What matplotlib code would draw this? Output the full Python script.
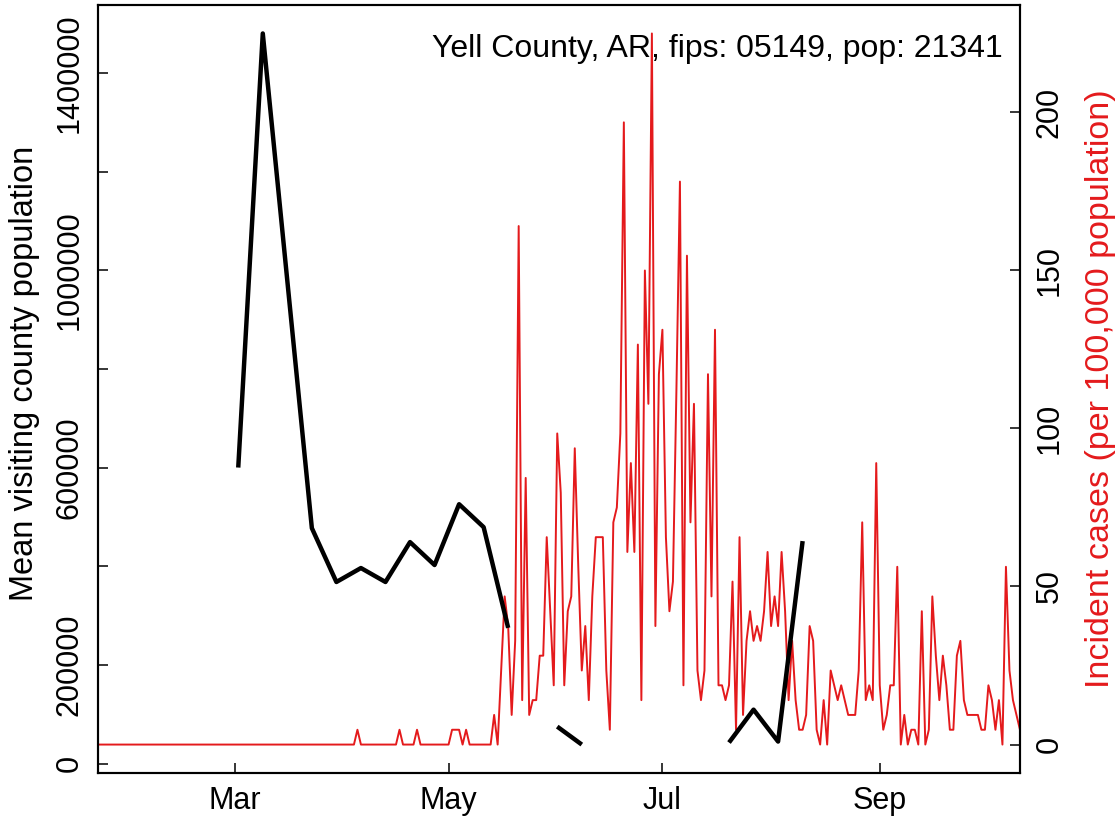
import numpy as np
import pandas as pd
import matplotlib
matplotlib.use("Agg")
import matplotlib.pyplot as plt

plt.rcParams['font.family'] = ['Liberation Sans', 'DejaVu Sans']

county_label = "Yell County, AR, fips: 05149, pop: 21341"
population = 21341
red = '#E41A1C'

# weekly mean visiting county population (NaN = week without data)
visit_weeks = pd.date_range("2020-03-02", "2020-08-10", freq="7D")
visit_mean = [600000, 1480100, 978600, 477200, 368000, 396300, 368000, 448900,
              402400, 525700, 479200, 275000, np.nan, 74800, 38400, np.nan,
              np.nan, np.nan, np.nan, np.nan, 42500, 109200, 44500, 450900]

# daily new cases, 2020-01-22 .. 2020-10-11
case_days = pd.date_range("2020-01-22", "2020-10-11", freq="D")
daily_cases = [0] * 74 + [
    1, 0, 0, 0, 0, 0, 0, 0, 0, 0, 0, 0, 1, 0, 0, 0, 0, 1, 0, 0,
    0, 0, 0, 0, 0, 0, 0, 1, 1, 1, 0, 1, 0, 0, 0, 0, 0, 0, 0,
    2, 0, 5, 10, 8, 2, 7, 35, 3, 18,
    2, 3, 3, 6, 6, 14, 9, 4, 21, 17,
    4, 9, 10, 20, 12, 5, 8, 3, 10, 14,
    14, 14, 5, 1, 15, 16, 21, 42, 13, 19,
    13, 27, 3, 32, 23, 48, 8, 25, 28, 14,
    9, 11, 24, 38, 4, 33, 15, 23, 5, 3,
    5, 25, 10, 28, 4, 4, 3, 4, 11, 1,
    14, 2, 7, 9, 7, 8, 7, 9, 13, 8,
    10, 8, 13, 9, 3, 7, 3, 1, 1, 2,
    8, 7, 1, 0, 3, 0, 5, 4, 3, 4,
    3, 2, 2, 2, 5, 15, 3, 4, 3, 19,
    4, 1, 2, 4, 4, 12, 0, 2, 0, 1,
    1, 0, 9, 0, 1, 10, 6, 3, 6, 4,
    1, 1, 6, 7, 3, 2, 2, 2, 2, 1,
    1, 4, 3, 1, 3, 0, 12, 5, 3, 2, 1]
incidence = np.array(daily_cases) / population * 100000

month_ticks = pd.to_datetime(["2020-03-01", "2020-05-01", "2020-07-01", "2020-09-01"])
month_labels = ["Mar", "May", "Jul", "Sep"]
left_ticks = list(range(0, 1400001, 200000))
left_labels = ["0", "200000", "", "600000", "", "1000000", "", "1400000"]
right_ticks = [0, 50, 100, 150, 200]

fig, ax = plt.subplots(figsize=(11.19, 8.22), dpi=100)
fig.subplots_adjust(left=0.0876, right=0.9115, bottom=0.0596, top=0.9939)
ax2 = ax.twinx()

ax2.plot(case_days, incidence, color=red, lw=1.4)
ax.plot(visit_weeks, visit_mean, color='black', lw=3.2, solid_capstyle='butt')
ax.set_zorder(ax2.get_zorder() + 1)
ax.patch.set_visible(False)

# R style 4% padding on the y ranges
lo, hi = np.nanmin(visit_mean), np.nanmax(visit_mean)
ax.set_ylim(lo - 0.04 * (hi - lo), hi + 0.04 * (hi - lo))
top = incidence.max()
ax2.set_ylim(-0.04 * top, 1.04 * top)
ax.set_xlim(case_days[0], case_days[-1])

ax.set_xticks(month_ticks)
ax.set_xticklabels(month_labels)
ax.set_yticks(left_ticks)
ax.set_yticklabels(left_labels)
ax2.set_yticks(right_ticks)
ax2.set_yticklabels([str(t) for t in right_ticks])

ax.tick_params(axis='x', direction='in', length=7, width=1.1, labelsize=22, pad=9)
ax.tick_params(axis='y', direction='in', length=7, width=1.1, labelsize=22, pad=9.5)
ax2.tick_params(axis='y', direction='in', length=7, width=1.1, labelsize=22, pad=10.5)
for lab in ax.get_yticklabels() + ax2.get_yticklabels():
    lab.set_rotation(90)
    lab.set_va('center')

for a in (ax, ax2):
    for s in a.spines.values():
        s.set_linewidth(1.5)

ax.set_ylabel("Mean visiting county population", fontsize=23.5)
ax.yaxis.set_label_coords(-0.0624, 0.52)
ax2.set_ylabel("Incident cases (per 100,000 population)", fontsize=24.5, color=red)
ax2.yaxis.set_label_coords(1.0705, 0.5)

ax.text(0.9816, 0.9323, county_label, transform=ax.transAxes,
        ha='right', va='baseline', fontsize=23)

plt.savefig("out.png", dpi=100)
